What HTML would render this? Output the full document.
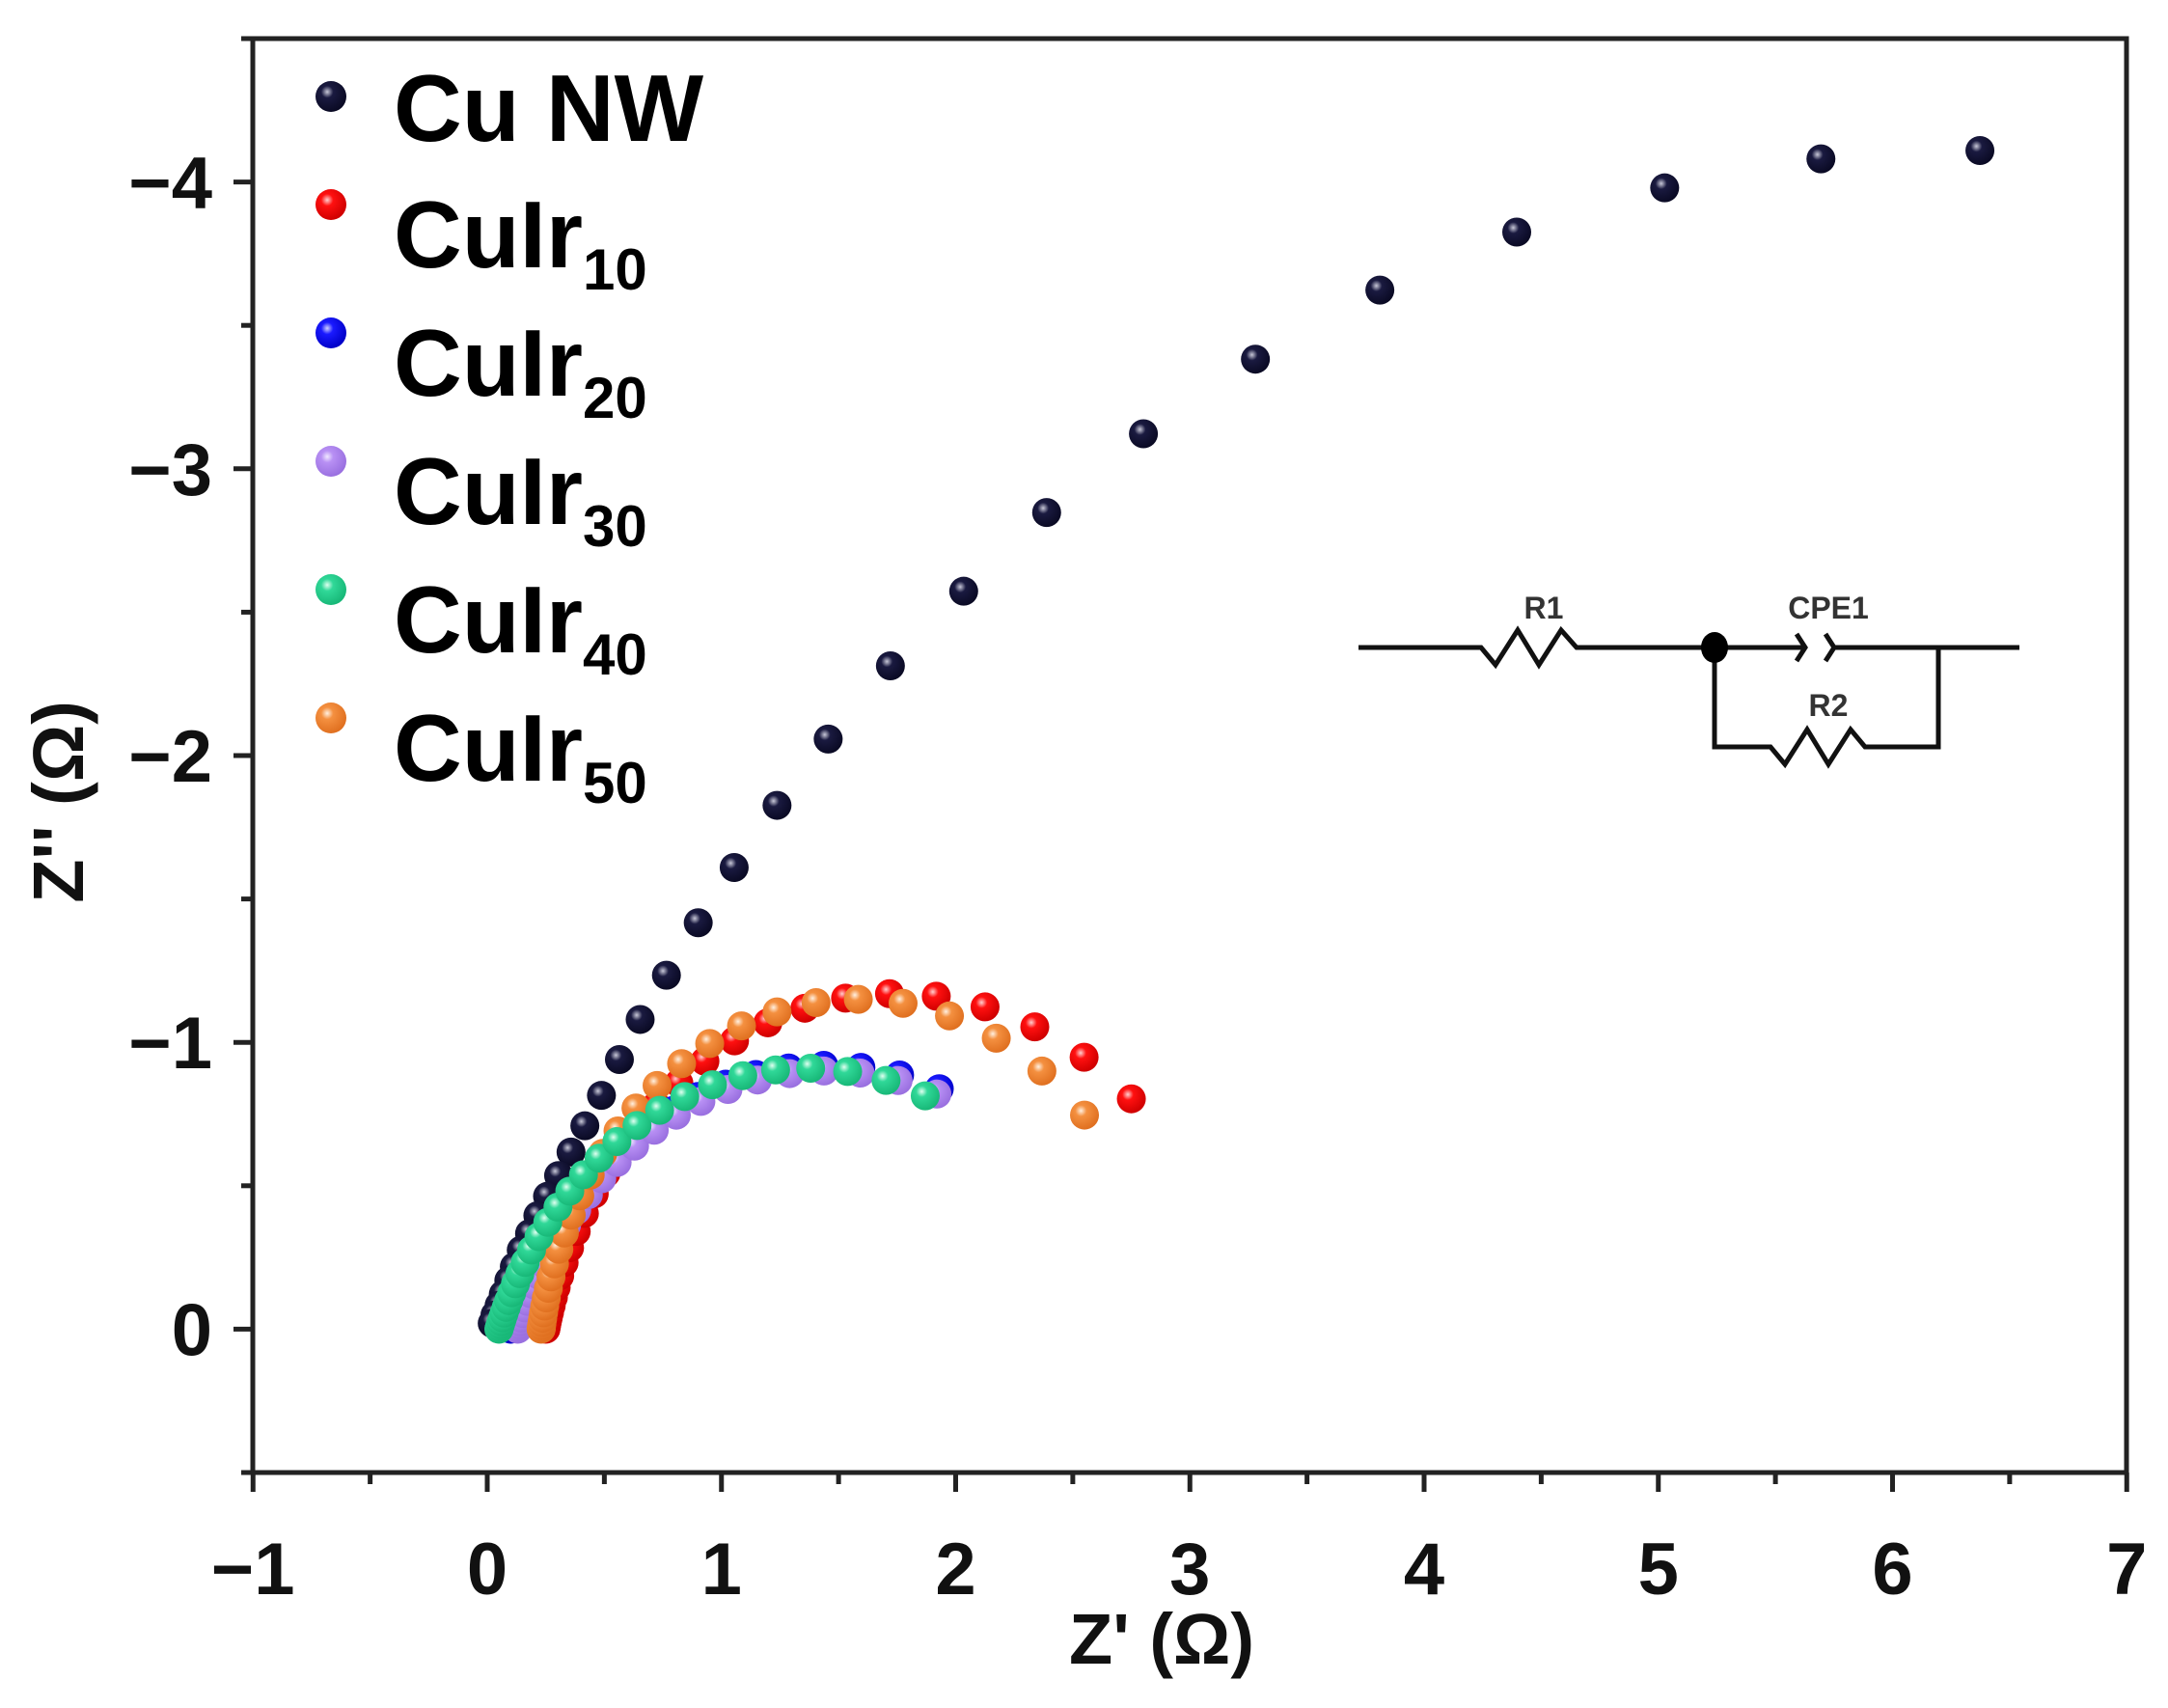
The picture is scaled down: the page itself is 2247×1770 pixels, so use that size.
<!DOCTYPE html>
<html><head><meta charset="utf-8"><style>
html,body{margin:0;padding:0;background:#fff;}
svg{display:block;font-family:"Liberation Sans",Arial,sans-serif;font-weight:bold;}
</style></head><body>
<svg id="s" width="2247" height="1770" viewBox="0 0 2247 1770" xmlns="http://www.w3.org/2000/svg">
<defs>
<radialGradient id="gk" cx="0.38" cy="0.35" r="0.65"><stop offset="0" stop-color="#c8c8d8"/><stop offset="0.3" stop-color="#1a1a40"/><stop offset="1" stop-color="#0a0a24"/></radialGradient>
<radialGradient id="gr" cx="0.38" cy="0.35" r="0.65"><stop offset="0" stop-color="#ffd0d0"/><stop offset="0.3" stop-color="#ff1010"/><stop offset="1" stop-color="#d00000"/></radialGradient>
<radialGradient id="gb" cx="0.38" cy="0.35" r="0.65"><stop offset="0" stop-color="#d0d0ff"/><stop offset="0.3" stop-color="#1a1aff"/><stop offset="1" stop-color="#0000c8"/></radialGradient>
<radialGradient id="gp" cx="0.38" cy="0.35" r="0.65"><stop offset="0" stop-color="#f0e8ff"/><stop offset="0.3" stop-color="#b890f4"/><stop offset="1" stop-color="#9a70e0"/></radialGradient>
<radialGradient id="gg" cx="0.38" cy="0.35" r="0.65"><stop offset="0" stop-color="#e0fff0"/><stop offset="0.3" stop-color="#30d898"/><stop offset="1" stop-color="#18b878"/></radialGradient>
<radialGradient id="go" cx="0.38" cy="0.35" r="0.65"><stop offset="0" stop-color="#fff0e0"/><stop offset="0.3" stop-color="#f49040"/><stop offset="1" stop-color="#e07020"/></radialGradient>
</defs>
<g id="data"></g>
<rect x="262" y="40" width="1942" height="1486" fill="none" stroke="#222" stroke-width="5"/>
<g id="ticks" stroke="#222" stroke-width="5"></g>
<g id="labels" font-size="76" fill="#111"></g>
<text x="1204" y="1724" font-size="74" text-anchor="middle" fill="#111">Z' (Ω)</text>
<text transform="translate(86,831) rotate(-90)" font-size="74" text-anchor="middle" fill="#111">Z'' (Ω)</text>
<!-- legend -->
<g font-size="98" fill="#000">
<circle cx="343" cy="100" r="16" fill="url(#gk)"/><text x="408" y="146">Cu NW</text>
<circle cx="343" cy="212" r="16" fill="url(#gr)"/><text x="408" y="277">CuIr<tspan font-size="60" dy="23">10</tspan></text>
<circle cx="343" cy="345" r="16" fill="url(#gb)"/><text x="408" y="410">CuIr<tspan font-size="60" dy="23">20</tspan></text>
<circle cx="343" cy="478" r="16" fill="url(#gp)"/><text x="408" y="543">CuIr<tspan font-size="60" dy="23">30</tspan></text>
<circle cx="343" cy="611" r="16" fill="url(#gg)"/><text x="408" y="676">CuIr<tspan font-size="60" dy="23">40</tspan></text>
<circle cx="343" cy="744" r="16" fill="url(#go)"/><text x="408" y="809">CuIr<tspan font-size="60" dy="23">50</tspan></text>
</g>
<!-- circuit -->
<g fill="none" stroke="#111" stroke-width="5">
<polyline points="1408,671 1535,671 1550,689 1573,653 1595,689 1618,653 1634,671 1777,671"/>
<line x1="1777" y1="671" x2="1870" y2="671"/>
<polyline points="1862,657 1871,671 1862,685"/>
<polyline points="1892,657 1901,671 1892,685"/>
<line x1="1901" y1="671" x2="2093" y2="671"/>
<polyline points="1777,671 1777,774 1835,774 1850,792 1873,756 1895,792 1918,756 1933,774 2009,774 2009,671"/>
</g>
<ellipse cx="1777" cy="671" rx="14" ry="16" fill="#000"/>
<g font-size="32" fill="#333" text-anchor="middle" font-family="Liberation Sans Narrow,Liberation Sans,sans-serif">
<text x="1600" y="641">R1</text><text x="1895" y="641">CPE1</text><text x="1895" y="742">R2</text>
</g>
</svg>
<script>
var NS="http://www.w3.org/2000/svg";
function X(x){return 505+242.75*x;} function Y(m){return 1377.4-297.2*m;}
var data=document.getElementById('data');
function dot(px,py,g){var c=document.createElementNS(NS,'circle');c.setAttribute('cx',px);c.setAttribute('cy',py);c.setAttribute('r',15);c.setAttribute('fill','url(#'+g+')');data.appendChild(c);}
var cu=[[1432,109],[1317,115],[1204,136],[1097,168],[998,210],[908,260],[827,314],[757,371],[697,428],[644,482],[599,535],[562,583],[531,628],[505,668],[482,706],[463,738],[448,767],[435,793],[423,815],[413,834],[404,851],[396,866],[389,880],[383,893],[377,905],[372,917],[368,927],[364,937],[361,945],[358,952],[356,958]];
cu.forEach(function(p){dot(p[0]*1.433,p[1]*1.4315,'gk');});
function arc(x0,ax,am,xe,g,N){
  var h=ax-x0; var e=(h*h-am*am)/(2*am); var r=am+e;
  var dxE=xe-ax; var mE=Math.sqrt(r*r-dxE*dxE)-e;
  var a1=Math.atan2(mE+e,dxE);
  var aS=Math.PI-Math.atan2(e,h);
  for(var k=0;k<=N;k++){var t=Math.pow(k/N,2.6);var a=aS+(a1-aS)*t;
    var x=ax+r*Math.cos(a), m=r*Math.sin(a)-e; if(m<0)m=0; dot(X(x),Y(m),g);}
}
arc(0.25,1.75,1.17,2.75,'gr',32);
arc(0.10,1.45,0.92,1.93,'gb',32);
arc(0.13,1.45,0.90,1.92,'gp',32);
arc(0.23,1.58,1.15,2.55,'go',32);
arc(0.05,1.36,0.91,1.87,'gg',32);
var tk=document.getElementById('ticks'),lb=document.getElementById('labels');
function ln(a,b,c,d){var l=document.createElementNS(NS,'line');l.setAttribute('x1',a);l.setAttribute('y1',b);l.setAttribute('x2',c);l.setAttribute('y2',d);tk.appendChild(l);}
function tx(x,y,s,anc){var t=document.createElementNS(NS,'text');t.setAttribute('x',x);t.setAttribute('y',y);t.setAttribute('text-anchor',anc);t.textContent=s;lb.appendChild(t);}
for(var v=-1;v<=7;v+=0.5){var px=X(v);var maj=(v%1===0);ln(px,1526,px,1526+(maj?20:12));
  if(maj)tx(px,1652,(v<0?'\u2212':'')+Math.abs(v),'middle');}
for(var m=-0.5;m<=4.5;m+=0.5){var py=Y(m);var maj=(Math.abs(m%1)<1e-9);ln(262,py,262-(maj?20:12),py);
  if(maj&&m>=0)tx(220,py+27,(m>0?'\u2212':'')+m,'end');}
</script>
</body></html>
